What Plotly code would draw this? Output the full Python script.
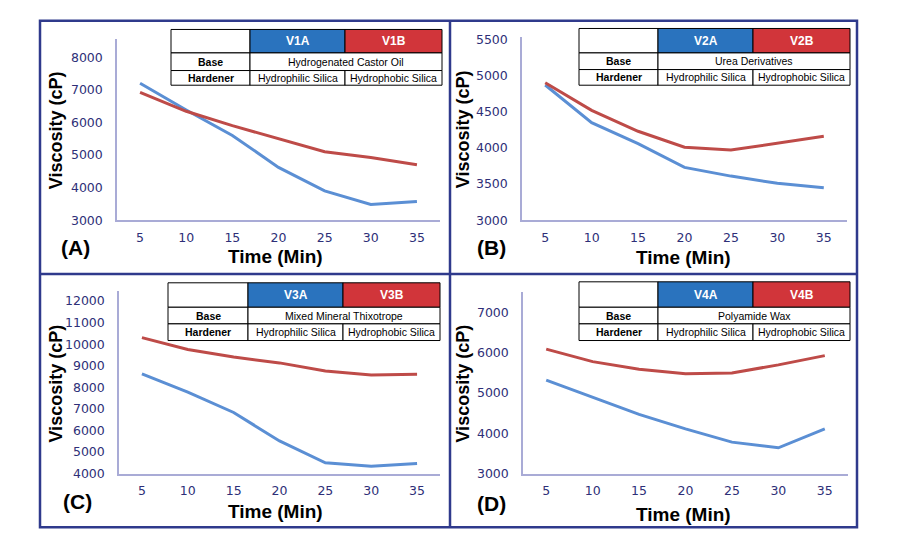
import plotly.graph_objects as go

W, H = 900, 550

# ---------------- data ----------------
time_min = ["5", "10", "15", "20", "25", "30", "35"]

v1a = [7200, 6380, 5600, 4620, 3900, 3480, 3570]
v1b = [6920, 6340, 5900, 5510, 5100, 4920, 4700]
v2a = [4870, 4350, 4060, 3730, 3610, 3510, 3450]
v2b = [4900, 4520, 4230, 4010, 3970, 4070, 4160]
v3a = [8620, 7770, 6830, 5510, 4500, 4340, 4470]
v3b = [10300, 9750, 9400, 9130, 8750, 8570, 8600]
v4a = [5320, 4890, 4470, 4110, 3780, 3640, 4110]
v4b = [6090, 5780, 5590, 5480, 5500, 5700, 5930]

panel_letters = ["(A)", "(B)", "(C)", "(D)"]
series_names = [("V1A", "V1B"), ("V2A", "V2B"), ("V3A", "V3B"), ("V4A", "V4B")]
bases = ["Hydrogenated Castor Oil", "Urea Derivatives", "Mixed Mineral Thixotrope", "Polyamide Wax"]
hardeners = ("Hydrophilic Silica", "Hydrophobic Silica")
row_labels = ("Base", "Hardener")
y_ranges = [(3000, 8550), (3000, 5530), (4000, 12480), (3000, 7520)]
y_dticks = [1000, 500, 1000, 1000]

series = [(v1a, v1b), (v2a, v2b), (v3a, v3b), (v4a, v4b)]

# ---------------- layout geometry (pixels) ----------------
areas = [(117, 440, 35, 220), (522, 847, 33, 220), (119, 440, 292, 479), (523, 848, 293, 479)]
tables = [
    ((171, 250, 345, 442), (25, 49, 67, 82)),
    ((579, 658, 753, 850), (24, 49, 66, 82)),
    ((168, 248, 343, 440), (284, 309, 326, 343)),
    ((579, 658, 753, 850), (283, 309, 326, 343)),
]
ylab_pos = [(56, 128), (463, 127), (56, 387), (463, 387)]
xlab_pos = [(275, 257), (683, 258), (275, 518), (683, 521)]
letter_pos = [(75, 248), (491, 248), (77, 508), (491, 510)]


def px(x):
    return x / W


def py(y):
    return 1 - y / H


BLUE_LINE = "#5B8FD4"
RED_LINE = "#BE4B48"
BLUE_HEAD = "#2A73BE"
RED_HEAD = "#D1353A"
NAVY = "#2F3A8C"
TICK_COL = "#2E2F78"
AXIS_COL = "#A9ABD6"

fig = go.Figure()
layout = dict(
    width=W, height=H, margin=dict(l=0, r=0, t=0, b=0),
    paper_bgcolor="white", plot_bgcolor="white", showlegend=False,
)
shapes = []
annotations = []

for i in range(4):
    n = "" if i == 0 else str(i + 1)
    xa, ya = "x" + n, "y" + n
    a, b = series[i]
    fig.add_trace(go.Scatter(x=time_min, y=a, mode="lines", name=series_names[i][0],
                             line=dict(color=BLUE_LINE, width=3), xaxis=xa, yaxis=ya))
    fig.add_trace(go.Scatter(x=time_min, y=b, mode="lines", name=series_names[i][1],
                             line=dict(color=RED_LINE, width=3), xaxis=xa, yaxis=ya))
    x0, x1, yt, yb = areas[i]
    layout["xaxis" + n] = dict(
        domain=[px(x0), px(x1)], anchor=ya, type="category", range=[-0.5, 6.5],
        showline=True, linecolor=AXIS_COL, linewidth=1.5, showgrid=False, zeroline=False,
        ticks="", ticklabelstandoff=5,
        tickfont=dict(family="DejaVu Sans", size=12.5, color=TICK_COL),
    )
    layout["yaxis" + n] = dict(
        domain=[py(yb), py(yt)], anchor=xa, range=list(y_ranges[i]),
        tick0=y_ranges[i][0], dtick=y_dticks[i], tickformat="d",
        showline=True, linecolor=AXIS_COL, linewidth=1.5, showgrid=False, zeroline=False,
        ticks="", ticklabelstandoff=10,
        tickfont=dict(family="DejaVu Sans", size=12.5, color=TICK_COL),
    )

    annotations.append(dict(x=px(ylab_pos[i][0]), y=py(ylab_pos[i][1]), xref="paper", yref="paper",
                            text="<b>Viscosity (cP)</b>", textangle=-90, showarrow=False,
                            font=dict(family="Liberation Sans", size=18, color="black"),
                            xanchor="center", yanchor="middle"))
    annotations.append(dict(x=px(xlab_pos[i][0]), y=py(xlab_pos[i][1]), xref="paper", yref="paper",
                            text="<b>Time (Min)</b>", showarrow=False,
                            font=dict(family="Liberation Sans", size=19, color="black"),
                            xanchor="center", yanchor="middle"))
    annotations.append(dict(x=px(letter_pos[i][0]), y=py(letter_pos[i][1]), xref="paper", yref="paper",
                            text="<b>" + panel_letters[i] + "</b>", showarrow=False,
                            font=dict(family="Liberation Sans", size=21, color="black"),
                            xanchor="center", yanchor="middle"))

    cx, ry = tables[i]
    fills = ["white", BLUE_HEAD, RED_HEAD]
    for c in range(3):
        shapes.append(dict(type="rect", xref="paper", yref="paper",
                           x0=px(cx[c]), x1=px(cx[c + 1]), y0=py(ry[1]), y1=py(ry[0]),
                           fillcolor=fills[c], line=dict(color="black", width=1), layer="above"))
    shapes.append(dict(type="rect", xref="paper", yref="paper",
                       x0=px(cx[0]), x1=px(cx[1]), y0=py(ry[2]), y1=py(ry[1]),
                       fillcolor="white", line=dict(color="black", width=1), layer="above"))
    shapes.append(dict(type="rect", xref="paper", yref="paper",
                       x0=px(cx[1]), x1=px(cx[3]), y0=py(ry[2]), y1=py(ry[1]),
                       fillcolor="white", line=dict(color="black", width=1), layer="above"))
    for c in range(3):
        shapes.append(dict(type="rect", xref="paper", yref="paper",
                           x0=px(cx[c]), x1=px(cx[c + 1]), y0=py(ry[3]), y1=py(ry[2]),
                           fillcolor="white", line=dict(color="black", width=1), layer="above"))
    tf = dict(family="Liberation Sans", size=10.5, color="black")
    hf = dict(family="Liberation Sans", size=12, color="white")

    def cell(text, xa0, xa1, ya0, ya1, font):
        annotations.append(dict(x=px((xa0 + xa1) / 2), y=py((ya0 + ya1) / 2), xref="paper", yref="paper",
                                text=text, showarrow=False, font=font,
                                xanchor="center", yanchor="middle"))

    cell("<b>" + series_names[i][0] + "</b>", cx[1], cx[2], ry[0], ry[1], hf)
    cell("<b>" + series_names[i][1] + "</b>", cx[2], cx[3], ry[0], ry[1], hf)
    cell("<b>" + row_labels[0] + "</b>", cx[0], cx[1], ry[1], ry[2], tf)
    cell(bases[i], cx[1], cx[3], ry[1], ry[2], tf)
    cell("<b>" + row_labels[1] + "</b>", cx[0], cx[1], ry[2], ry[3], tf)
    cell(hardeners[0], cx[1], cx[2], ry[2], ry[3], tf)
    cell(hardeners[1], cx[2], cx[3], ry[2], ry[3], tf)

shapes.append(dict(type="rect", xref="paper", yref="paper", x0=px(40), x1=px(857), y0=py(534), y1=py(16),
                   line=dict(color=NAVY, width=2.5), layer="above"))
shapes.append(dict(type="line", xref="paper", yref="paper", x0=px(450), x1=px(450), y0=py(534), y1=py(16),
                   line=dict(color=NAVY, width=2.5), layer="above"))
shapes.append(dict(type="line", xref="paper", yref="paper", x0=px(40), x1=px(857), y0=py(275), y1=py(275),
                   line=dict(color=NAVY, width=2.5), layer="above"))

layout["shapes"] = shapes
layout["annotations"] = annotations
fig.update_layout(**layout)
fig.write_html("out.html", config={"displayModeBar": False},
               post_script="document.body.style.margin='0';document.body.style.overflow='hidden';")
